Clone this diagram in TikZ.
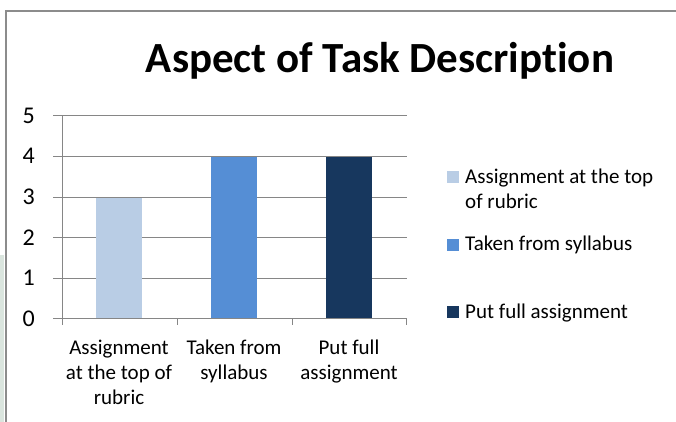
\documentclass[tikz,border=0pt]{standalone}
\usepackage{fontspec}
\setmainfont{Carlito}[Ligatures=NoCommon]

\definecolor{gridgray}{HTML}{868686}
\definecolor{framegray}{HTML}{8C8C8C}
\definecolor{stripgreen}{HTML}{DAE5DE}
\definecolor{barlight}{HTML}{B9CDE5}
\definecolor{barmid}{HTML}{558ED5}
\definecolor{bardark}{HTML}{17375E}

\begin{document}
\begin{tikzpicture}[x=1pt,y=-1pt,
  gridline/.style={gridgray,line width=1pt},
  label/.style={inner sep=0pt,font=\fontsize{21}{25}\selectfont},
  numlabel/.style={inner sep=0pt,font=\fontsize{24}{28}\selectfont},
  legkey/.style={minimum size=12pt,inner sep=0pt}]
\useasboundingbox (0,0) rectangle (676,422);

% frame of the chart area
\fill[stripgreen] (0,255) rectangle (3.5,422);
\draw[framegray,line width=2pt] (6,440) |- (690,11);

\node[inner sep=0pt,anchor=base,font=\fontsize{43}{50}\selectfont\bfseries] (title) at (380,73) {Aspect of Task Description};

% grid and value axis
\foreach \v in {0,...,5}{
  \draw[gridline] (53,{318.5-40.5*\v}) -- (407,{318.5-40.5*\v});
  \node[numlabel,anchor=base east] (ylab\v) at (35,{326-40.5*\v}) {\v};
}
\draw[gridline] (62,116) -- (62,318.5);

% bars
\fill[barlight] (96,318.5) rectangle (142,197.5);
\fill[barmid] (211,318.5) rectangle (257,157);
\fill[bardark] (326,318.5) rectangle (372,157);

% category axis
\draw[gridline] (62,318.5) -- (407,318.5);
\foreach \x in {62,177,292,406.5}
  \draw[gridline] (\x,318.5) -- (\x,325);

% multi-line labels sit on the baseline of their last line
\node[label,align=center,anchor=base] (catA) at (119,404) {Assignment\\at the top of\\rubric};
\node[label,align=center,anchor=base] (catB) at (234,379) {Taken from\\syllabus};
\node[label,align=center,anchor=base] (catC) at (349,379) {Put full\\assignment};

% legend
\node[legkey,fill=barlight] (keyA) at (453,177) {};
\node[legkey,fill=barmid] (keyB) at (453,244.5) {};
\node[legkey,fill=bardark] (keyC) at (453,312) {};
\node[label,align=left,anchor=base west] (legA) at (465,208) {Assignment at the top\\of rubric};
\node[label,anchor=base west] (legB) at (465,250.5) {Taken from syllabus};
\node[label,anchor=base west] (legC) at (465,318) {Put full assignment};
\end{tikzpicture}
\end{document}
